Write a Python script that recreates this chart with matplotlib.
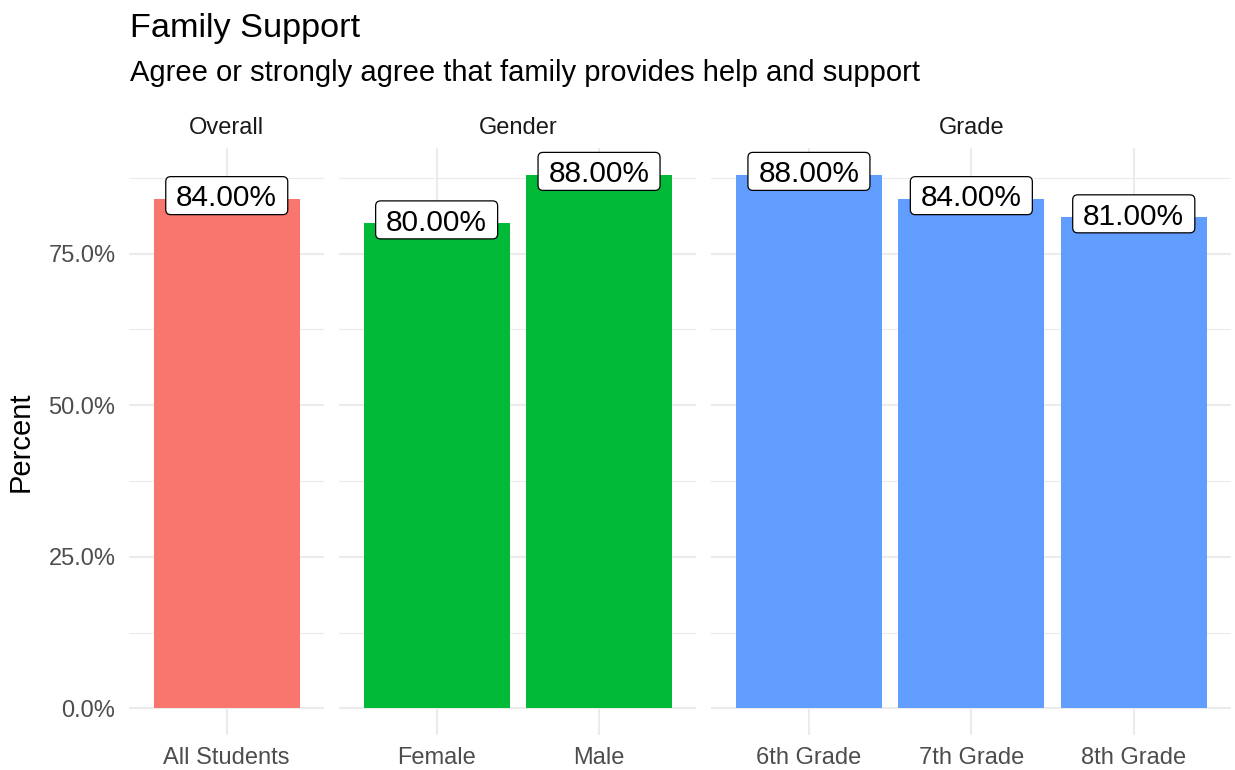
import matplotlib
matplotlib.use('Agg')
import matplotlib.pyplot as plt
import matplotlib.transforms as mtransforms
from matplotlib.patches import FancyBboxPatch
from matplotlib.ticker import FuncFormatter

plt.rcParams['font.family'] = ['Liberation Sans', 'DejaVu Sans']

# data
groups = ["Overall", "Gender", "Grade"]
categories = [["All Students"], ["Female", "Male"], ["6th Grade", "7th Grade", "8th Grade"]]
values = [[0.84], [0.80, 0.88], [0.88, 0.84, 0.81]]
colors = ["#F8766D", "#00BA38", "#619CFF"]

W, H = 1235, 770
fig = plt.figure(figsize=(W / 100, H / 100), dpi=100)

# panel area in pixels
left, right, bottom, top = 129.3, 1231.2, 735, 148
gap = 15
unit = (right - left - gap * (len(groups) - 1)) / sum(len(c) + 0.2 for c in categories)

vmax = max(max(v) for v in values)
ymin, ymax = -0.05 * vmax, 1.05 * vmax

grey = "#4D4D4D"
labels = []
x0 = left
for k, (grp, cats, vals, col) in enumerate(zip(groups, categories, values, colors)):
    n = len(cats)
    w = (n + 0.2) * unit
    ax = fig.add_axes([x0 / W, 1 - bottom / H, w / W, (bottom - top) / H])
    x0 += w + gap

    ax.bar(range(n), vals, width=0.9, color=col, zorder=2)
    ax.set_xlim(-0.6, n - 1 + 0.6)
    ax.set_ylim(ymin, ymax)
    ax.set_yticks([0, 0.25, 0.5, 0.75])
    ax.set_yticks([0.125, 0.375, 0.625, 0.875], minor=True)
    ax.yaxis.set_major_formatter(FuncFormatter(lambda v, p: f"{v * 100:.1f}%"))
    ax.set_xticks(range(n))
    ax.set_xticklabels(cats)
    ax.grid(which='major', color='#EBEBEB', lw=1.5)
    ax.grid(which='minor', axis='y', color='#EBEBEB', lw=0.8)
    ax.set_axisbelow(True)
    for s in ax.spines.values():
        s.set_visible(False)
    ax.tick_params(which='both', length=0, labelsize=17, labelcolor=grey)
    ax.tick_params(axis='x', pad=8.5)
    ax.tick_params(axis='y', pad=10)
    if k > 0:
        ax.tick_params(axis='y', labelleft=False)

    # strip label
    ax.text(0.5, 1, grp, ha='center', va='baseline', fontsize=17, color='#1A1A1A',
            transform=mtransforms.offset_copy(ax.transAxes, fig=fig, y=14, units='dots'))

    # value labels
    for i, v in enumerate(vals):
        t = ax.text(i, v, f"{v * 100:.2f}%", ha='center', va='baseline', fontsize=21.5, zorder=4,
                    clip_on=False,
                    transform=mtransforms.offset_copy(ax.transData, fig=fig, y=-7.4, units='dots'))
        labels.append((ax, t, i, v))

# rounded boxes behind the value labels
fig.canvas.draw()
renderer = fig.canvas.get_renderer()
for ax, t, i, v in labels:
    bb = t.get_window_extent(renderer)
    cx, cy = ax.transData.transform((i, v))
    bw = bb.width + 21
    box = FancyBboxPatch((cx - bw / 2, cy - 15.7), bw, 38, boxstyle='round,pad=0,rounding_size=5',
                         fc='white', ec='black', lw=0.9, zorder=3, clip_on=False,
                         transform=mtransforms.IdentityTransform())
    ax.add_patch(box)

fig.text(130 / W, 1 - 37 / H, "Family Support", fontsize=24.7, va='baseline')
fig.text(130 / W, 1 - 81 / H, "Agree or strongly agree that family provides help and support",
         fontsize=21, va='baseline')
fig.text(35 / W, 1 - 441.5 / H, "Percent", fontsize=21, rotation=90, ha='right', va='center')

fig.savefig("out.png", dpi=100)
